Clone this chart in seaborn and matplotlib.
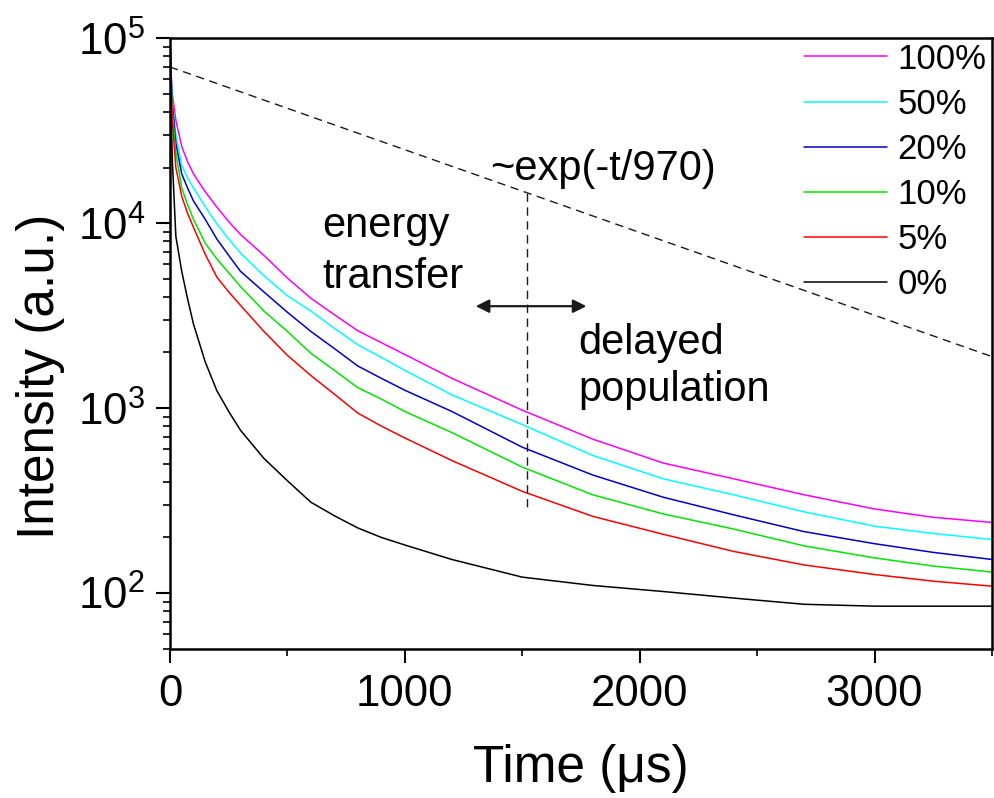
import pandas as pd
import matplotlib
matplotlib.use("Agg")
import matplotlib.pyplot as plt
import seaborn as sns
from matplotlib.ticker import MultipleLocator, LogLocator

# time axis (us) and decay curves
t_us = [0, 5, 10, 25, 50, 75, 100, 150, 200, 250, 300, 400, 500, 600, 700, 800, 900, 1000,
        1200, 1500, 1800, 2100, 2400, 2700, 3000, 3250, 3500]

i_100 = [100000, 65000, 50000, 36000, 26000, 21500, 18500, 14800, 12200, 10200, 8700, 6700,
         5050, 3930, 3200, 2620, 2260, 1950, 1450, 975, 680, 505, 415, 340, 285, 257, 241]
i_50 = [100000, 62000, 46000, 30000, 20500, 17600, 15500, 12300, 9900, 8200, 6900, 5200,
        4050, 3350, 2700, 2200, 1880, 1600, 1180, 815, 555, 415, 340, 275, 230, 210, 195]
i_20 = [100000, 60000, 44000, 27000, 18500, 15500, 13200, 10500, 8200, 6700, 5500, 4250,
        3300, 2600, 2100, 1690, 1450, 1250, 960, 615, 435, 330, 265, 215, 185, 166, 152]
i_10 = [100000, 57000, 40000, 24000, 15500, 12600, 10500, 7800, 6400, 5400, 4550, 3350,
        2600, 1980, 1600, 1290, 1120, 960, 738, 480, 340, 268, 222, 180, 155, 140, 130]
i_5 = [100000, 53000, 36000, 20000, 14000, 11300, 9500, 6800, 5100, 4250, 3600, 2600,
       1930, 1500, 1190, 940, 800, 690, 521, 355, 260, 208, 168, 142, 126, 116, 109]
i_0 = [100000, 40000, 22000, 8500, 5500, 3900, 2850, 1780, 1240, 960, 760, 535,
       405, 310, 262, 225, 200, 182, 152, 122, 110, 102, 94, 87, 85, 85, 85]

labels = ["100%", "50%", "20%", "10%", "5%", "0%"]
colors = ["#ff00ff", "#00ffff", "#0000cc", "#00e600", "#ff0000", "#000000"]

# guide line ~exp(-t/970) and marker positions
fit_t = [0, 3500]
fit_i = [70000, 1900]
split_t = 1520

df = pd.concat([
    pd.DataFrame({"t": t_us, "I": vals, "conc": lab})
    for vals, lab in zip([i_100, i_50, i_20, i_10, i_5, i_0], labels)
])

sns.set_theme(style="ticks")
plt.rcParams["font.family"] = ["Liberation Sans", "DejaVu Sans"]
plt.rcParams["mathtext.fontset"] = "custom"
plt.rcParams["mathtext.rm"] = "Liberation Sans"
plt.rcParams["mathtext.it"] = "Liberation Sans"
for key in ["text.color", "axes.labelcolor", "xtick.color", "ytick.color", "axes.edgecolor"]:
    plt.rcParams[key] = "black"

fig, ax = plt.subplots(figsize=(9.94, 7.98), dpi=100)
fig.subplots_adjust(left=0.171, right=0.998, top=0.952, bottom=0.187)
ax.set_yscale("log")

sns.lineplot(data=df, x="t", y="I", hue="conc", hue_order=labels,
             palette=dict(zip(labels, colors)), linewidth=1.1, ax=ax)

ax.plot(fit_t, fit_i, color="k", lw=1.0, ls=(0, (6, 4)))
ax.plot([split_t, split_t], [14500, 290], color="k", lw=1.0, ls=(0, (6, 4)))
ax.annotate("", xy=(1785, 3560), xytext=(1290, 3560),
            arrowprops=dict(arrowstyle="<|-|>", color="k", lw=1.6, mutation_scale=20))

ax.text(1364, 17100, "~exp(-t/970)", fontsize=30, va="baseline")
ax.text(650, 8440, "energy", fontsize=30, va="baseline")
ax.text(650, 4480, "transfer", fontsize=30, va="baseline")
ax.text(1738, 1972, "delayed", fontsize=30, va="baseline")
ax.text(1738, 1099, "population", fontsize=30, va="baseline")

ax.set_xlim(0, 3500)
ax.set_ylim(50, 100000)
ax.xaxis.set_major_locator(MultipleLocator(1000))
ax.xaxis.set_minor_locator(MultipleLocator(500))
ax.yaxis.set_major_locator(LogLocator(base=10))
ax.yaxis.set_minor_locator(LogLocator(base=10, subs=range(2, 10)))

ax.tick_params(which="major", direction="out", length=10, width=1.5, labelsize=31.5, pad=8,
               top=False, right=False)
ax.tick_params(which="minor", direction="out", length=5, width=1.2, top=False, right=False)
for sp in ax.spines.values():
    sp.set_linewidth(1.8)

ax.set_xlabel("Time (μs)", fontsize=37, labelpad=21)
ax.set_ylabel("Intensity (a.u.)", fontsize=37)
ax.yaxis.set_label_coords(-0.128, 0.447)

handles, labs = ax.get_legend_handles_labels()
ax.legend(handles, labs, loc="upper right", bbox_to_anchor=(1.006, 1.01), frameon=False,
          fontsize=25, handlelength=2.4, handletextpad=0.3, labelspacing=0.35,
          borderaxespad=0.1, borderpad=0.2)

fig.savefig("out.png", dpi=100)
